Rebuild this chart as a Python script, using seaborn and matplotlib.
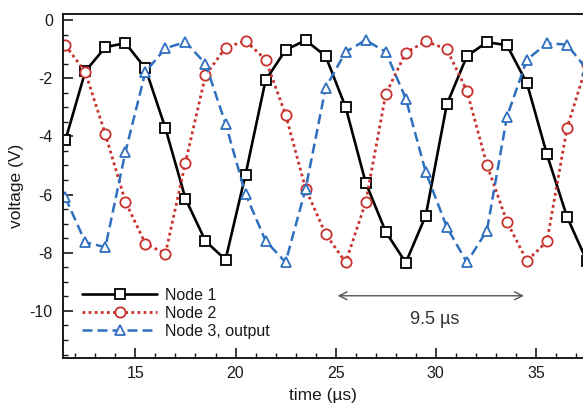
import matplotlib
matplotlib.use("Agg")
import matplotlib.pyplot as plt
from matplotlib.ticker import MultipleLocator
import seaborn as sns
import pandas as pd

# ---- data ----
time_us = [11.5, 12.5, 13.5, 14.5, 15.5, 16.5, 17.5, 18.5, 19.5, 20.5,
           21.5, 22.5, 23.5, 24.5, 25.5, 26.5, 27.5, 28.5, 29.5, 30.55,
           31.55, 32.55, 33.55, 34.55, 35.55, 36.55, 37.55]
node1 = [-4.14, -1.76, -0.93, -0.79, -1.66, -3.72, -6.14, -7.60, -8.24, -5.31,
         -2.07, -1.03, -0.69, -1.24, -3.00, -5.59, -7.28, -8.34, -6.72, -2.90,
         -1.24, -0.76, -0.86, -2.17, -4.62, -6.76, -8.30]
node2 = [-0.86, -1.79, -3.93, -6.24, -7.69, -8.03, -4.90, -1.90, -0.95, -0.71,
         -1.36, -3.25, -5.80, -7.36, -8.33, -6.26, -2.55, -1.12, -0.73, -1.00,
         -2.43, -4.97, -6.93, -8.28, -7.61, -3.72, -1.50]
node3 = [-6.10, -7.64, -7.81, -4.54, -1.78, -0.97, -0.75, -1.50, -3.56, -5.98,
         -7.59, -8.33, -5.80, -2.32, -1.09, -0.69, -1.09, -2.70, -5.23, -7.12,
         -8.33, -7.24, -3.33, -1.36, -0.80, -0.84, -1.70]
labels = ["Node 1", "Node 2", "Node 3, output"]
period_start, period_end, period_y = 25.1, 34.4, -9.48
period_label = "9.5 µs"

# ---- style ----
sns.set_style("ticks")
plt.rcParams["font.family"] = ["Liberation Sans", "DejaVu Sans"]
plt.rcParams["axes.unicode_minus"] = False
FS = 11.5

fig = plt.figure(figsize=(5.83, 4.08), dpi=100)
W, H = 583, 408
ax = fig.add_axes([62.5 / W, (H - 358) / H, (W - 62.5) / W, (358 - 14) / H])

df = pd.DataFrame({"time": time_us, labels[0]: node1, labels[1]: node2, labels[2]: node3})

styles = [
    dict(color="black", linestyle="-", marker="s", lw=1.9),
    dict(color="#c8302b", linestyle=(0, (1, 1.2)), marker="o", lw=2.0),
    dict(color="#2f6fc0", linestyle=(0, (4, 2)), marker="^", lw=1.8),
]
for lab, st in zip(labels, styles):
    sns.lineplot(data=df, x="time", y=lab, ax=ax, label=lab,
                 color=st["color"], linestyle=st["linestyle"], lw=st["lw"],
                 marker=st["marker"], markersize=7.4, markerfacecolor="white",
                 markeredgecolor=st["color"], markeredgewidth=1.3)

ax.set_xlim(11.36, 37.35)
ax.set_ylim(-11.62, 0.21)
ax.xaxis.set_major_locator(MultipleLocator(5))
ax.xaxis.set_minor_locator(MultipleLocator(1))
ax.yaxis.set_major_locator(MultipleLocator(2))
ax.yaxis.set_minor_locator(MultipleLocator(0.5))
ax.tick_params(which="both", direction="in", top=False, right=False,
               labelsize=FS, colors="#1a1a1a")
ax.tick_params(which="major", length=7, width=1.2)
ax.tick_params(which="minor", length=3.5, width=1.0)
ax.tick_params(axis="y", which="major", pad=7)
ax.tick_params(axis="x", which="major", pad=6)
for s in ["left", "bottom", "top"]:
    ax.spines[s].set_linewidth(1.4)
    ax.spines[s].set_color("#1a1a1a")
ax.spines["right"].set_visible(False)

ax.set_xlabel("time (µs)", fontsize=12.5, color="#1a1a1a", labelpad=5)
ax.set_ylabel("voltage (V)", fontsize=12.5, color="#1a1a1a", labelpad=4)

ax.annotate("", xy=(period_end, period_y), xytext=(period_start, period_y),
            arrowprops=dict(arrowstyle="<->", color="#555555", lw=1.0,
                            mutation_scale=14, shrinkA=0, shrinkB=0))
ax.text((period_start + period_end) / 2 + 0.2, period_y - 0.8, period_label,
        ha="center", va="center", fontsize=13, color="#333333")

leg = ax.legend(loc="lower left", bbox_to_anchor=(0.038, 0.055), frameon=False,
                fontsize=FS, handlelength=4.7, handletextpad=0.45,
                labelspacing=0.2, borderpad=0, borderaxespad=0)
for t in leg.get_texts():
    t.set_color("#1a1a1a")

fig.savefig("out.png", dpi=100)
